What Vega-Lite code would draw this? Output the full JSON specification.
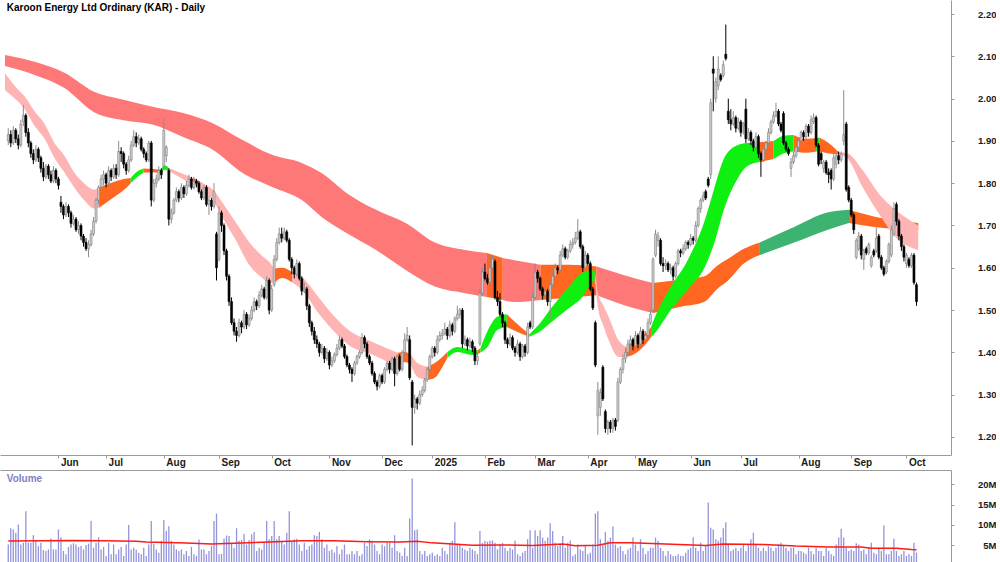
{
"$schema":"https://vega.github.io/schema/vega-lite/v6.json",
"padding":0,
"background":"white",
"spacing":3,
"config":{"view":{"stroke":null},"axis":{"labelFont":"Liberation Sans","labelFontWeight":"bold","labelColor":"#1a1a1a","domainColor":"#9a9a9a","tickColor":"#9a9a9a","grid":false,"labelOverlap":false,"labelBound":false}},
"datasets":{
"px":[
{"i":0,"o":1.9,"h":1.93,"l":1.89,"c":1.915,"v":5.2},
{"i":1,"o":1.915,"h":1.925,"l":1.885,"c":1.895,"v":9.2},
{"i":2,"o":1.895,"h":1.935,"l":1.89,"c":1.925,"v":8.9},
{"i":3,"o":1.925,"h":1.93,"l":1.895,"c":1.905,"v":8.1},
{"i":4,"o":1.905,"h":1.915,"l":1.88,"c":1.89,"v":10.1},
{"i":5,"o":1.89,"h":1.95,"l":1.885,"c":1.94,"v":5.2},
{"i":6,"o":1.945,"h":1.985,"l":1.935,"c":1.96,"v":5.6},
{"i":7,"o":1.96,"h":1.965,"l":1.91,"c":1.92,"v":13.4},
{"i":8,"o":1.92,"h":1.93,"l":1.885,"c":1.895,"v":5.6},
{"i":9,"o":1.895,"h":1.9,"l":1.86,"c":1.87,"v":5.6},
{"i":10,"o":1.87,"h":1.88,"l":1.845,"c":1.855,"v":7.5},
{"i":11,"o":1.855,"h":1.89,"l":1.85,"c":1.88,"v":6.1},
{"i":12,"o":1.88,"h":1.885,"l":1.85,"c":1.86,"v":4.8},
{"i":13,"o":1.86,"h":1.865,"l":1.825,"c":1.835,"v":5.6},
{"i":14,"o":1.835,"h":1.85,"l":1.805,"c":1.815,"v":3.8},
{"i":15,"o":1.815,"h":1.845,"l":1.81,"c":1.84,"v":3.6},
{"i":16,"o":1.84,"h":1.845,"l":1.81,"c":1.82,"v":4.0},
{"i":17,"o":1.82,"h":1.83,"l":1.8,"c":1.805,"v":6.7},
{"i":18,"o":1.805,"h":1.84,"l":1.8,"c":1.83,"v":4.0},
{"i":19,"o":1.83,"h":1.835,"l":1.8,"c":1.81,"v":4.0},
{"i":20,"o":1.81,"h":1.815,"l":1.785,"c":1.795,"v":8.9},
{"i":21,"o":1.755,"h":1.77,"l":1.73,"c":1.745,"v":7.0},
{"i":22,"o":1.745,"h":1.75,"l":1.715,"c":1.725,"v":3.6},
{"i":23,"o":1.725,"h":1.755,"l":1.72,"c":1.745,"v":2.8},
{"i":24,"o":1.745,"h":1.75,"l":1.72,"c":1.73,"v":4.6},
{"i":25,"o":1.73,"h":1.735,"l":1.695,"c":1.705,"v":5.2},
{"i":26,"o":1.705,"h":1.725,"l":1.7,"c":1.715,"v":5.5},
{"i":27,"o":1.715,"h":1.72,"l":1.685,"c":1.69,"v":5.2},
{"i":28,"o":1.69,"h":1.71,"l":1.68,"c":1.7,"v":4.6},
{"i":29,"o":1.7,"h":1.705,"l":1.665,"c":1.675,"v":4.8},
{"i":30,"o":1.675,"h":1.68,"l":1.65,"c":1.66,"v":4.0},
{"i":31,"o":1.66,"h":1.67,"l":1.64,"c":1.645,"v":5.1},
{"i":32,"o":1.645,"h":1.665,"l":1.625,"c":1.655,"v":5.4},
{"i":33,"o":1.655,"h":1.69,"l":1.65,"c":1.68,"v":11.0},
{"i":34,"o":1.68,"h":1.72,"l":1.675,"c":1.71,"v":4.4},
{"i":35,"o":1.71,"h":1.765,"l":1.705,"c":1.76,"v":5.6},
{"i":36,"o":1.76,"h":1.795,"l":1.75,"c":1.79,"v":7.0},
{"i":37,"o":1.79,"h":1.82,"l":1.785,"c":1.81,"v":4.0},
{"i":38,"o":1.81,"h":1.83,"l":1.795,"c":1.82,"v":4.6},
{"i":39,"o":1.82,"h":1.825,"l":1.79,"c":1.8,"v":2.4},
{"i":40,"o":1.8,"h":1.84,"l":1.795,"c":1.83,"v":5.6},
{"i":41,"o":1.83,"h":1.835,"l":1.805,"c":1.815,"v":2.8},
{"i":42,"o":1.815,"h":1.845,"l":1.81,"c":1.835,"v":5.2},
{"i":43,"o":1.835,"h":1.845,"l":1.81,"c":1.82,"v":2.8},
{"i":44,"o":1.82,"h":1.9,"l":1.815,"c":1.875,"v":4.0},
{"i":45,"o":1.875,"h":1.885,"l":1.85,"c":1.87,"v":4.6},
{"i":46,"o":1.87,"h":1.875,"l":1.835,"c":1.845,"v":2.4},
{"i":47,"o":1.845,"h":1.85,"l":1.82,"c":1.83,"v":5.2},
{"i":48,"o":1.83,"h":1.865,"l":1.825,"c":1.855,"v":10.0},
{"i":49,"o":1.855,"h":1.9,"l":1.85,"c":1.89,"v":4.0},
{"i":50,"o":1.89,"h":1.925,"l":1.885,"c":1.91,"v":4.4},
{"i":51,"o":1.91,"h":1.92,"l":1.885,"c":1.895,"v":4.0},
{"i":52,"o":1.895,"h":1.915,"l":1.89,"c":1.905,"v":3.2},
{"i":53,"o":1.905,"h":1.91,"l":1.875,"c":1.88,"v":2.8},
{"i":54,"o":1.88,"h":1.885,"l":1.86,"c":1.87,"v":4.4},
{"i":55,"o":1.87,"h":1.875,"l":1.85,"c":1.855,"v":2.4},
{"i":56,"o":1.855,"h":1.9,"l":1.85,"c":1.895,"v":5.2},
{"i":57,"o":1.895,"h":1.9,"l":1.745,"c":1.76,"v":11.0},
{"i":58,"o":1.76,"h":1.81,"l":1.755,"c":1.8,"v":5.4},
{"i":59,"o":1.8,"h":1.82,"l":1.79,"c":1.81,"v":4.0},
{"i":60,"o":1.81,"h":1.84,"l":1.805,"c":1.83,"v":3.2},
{"i":61,"o":1.83,"h":1.835,"l":1.81,"c":1.82,"v":6.1},
{"i":62,"o":1.84,"h":1.955,"l":1.835,"c":1.925,"v":11.2},
{"i":63,"o":1.865,"h":1.89,"l":1.85,"c":1.885,"v":8.5},
{"i":64,"o":1.83,"h":1.835,"l":1.7,"c":1.715,"v":9.7},
{"i":65,"o":1.715,"h":1.74,"l":1.705,"c":1.73,"v":6.1},
{"i":66,"o":1.73,"h":1.765,"l":1.725,"c":1.76,"v":5.2},
{"i":67,"o":1.76,"h":1.79,"l":1.755,"c":1.78,"v":4.0},
{"i":68,"o":1.78,"h":1.785,"l":1.755,"c":1.765,"v":3.6},
{"i":69,"o":1.765,"h":1.8,"l":1.76,"c":1.79,"v":4.0},
{"i":70,"o":1.79,"h":1.795,"l":1.765,"c":1.775,"v":2.8},
{"i":71,"o":1.775,"h":1.805,"l":1.77,"c":1.795,"v":3.6},
{"i":72,"o":1.795,"h":1.82,"l":1.79,"c":1.81,"v":2.4},
{"i":73,"o":1.81,"h":1.815,"l":1.785,"c":1.79,"v":4.6},
{"i":74,"o":1.79,"h":1.815,"l":1.785,"c":1.805,"v":2.8},
{"i":75,"o":1.805,"h":1.81,"l":1.79,"c":1.8,"v":2.4},
{"i":76,"o":1.8,"h":1.805,"l":1.775,"c":1.78,"v":6.4},
{"i":77,"o":1.78,"h":1.785,"l":1.76,"c":1.765,"v":4.0},
{"i":78,"o":1.765,"h":1.795,"l":1.76,"c":1.79,"v":4.0},
{"i":79,"o":1.79,"h":1.795,"l":1.745,"c":1.75,"v":2.8},
{"i":80,"o":1.75,"h":1.77,"l":1.725,"c":1.76,"v":3.6},
{"i":81,"o":1.76,"h":1.765,"l":1.735,"c":1.745,"v":4.8},
{"i":82,"o":1.745,"h":1.8,"l":1.74,"c":1.78,"v":11.0},
{"i":83,"o":1.68,"h":1.685,"l":1.57,"c":1.6,"v":12.8},
{"i":84,"o":1.62,"h":1.745,"l":1.615,"c":1.73,"v":2.8},
{"i":85,"o":1.73,"h":1.735,"l":1.685,"c":1.7,"v":2.9},
{"i":86,"o":1.7,"h":1.705,"l":1.63,"c":1.64,"v":6.7},
{"i":87,"o":1.64,"h":1.645,"l":1.57,"c":1.58,"v":7.4},
{"i":88,"o":1.58,"h":1.585,"l":1.51,"c":1.52,"v":7.3},
{"i":89,"o":1.52,"h":1.53,"l":1.465,"c":1.47,"v":5.6},
{"i":90,"o":1.47,"h":1.48,"l":1.44,"c":1.45,"v":4.4},
{"i":91,"o":1.45,"h":1.46,"l":1.425,"c":1.44,"v":9.2},
{"i":92,"o":1.44,"h":1.48,"l":1.435,"c":1.47,"v":6.1},
{"i":93,"o":1.47,"h":1.475,"l":1.445,"c":1.46,"v":6.3},
{"i":94,"o":1.46,"h":1.5,"l":1.455,"c":1.49,"v":7.8},
{"i":95,"o":1.49,"h":1.495,"l":1.455,"c":1.465,"v":5.2},
{"i":96,"o":1.465,"h":1.49,"l":1.46,"c":1.48,"v":6.3},
{"i":97,"o":1.48,"h":1.51,"l":1.475,"c":1.5,"v":7.7},
{"i":98,"o":1.5,"h":1.53,"l":1.495,"c":1.52,"v":8.3},
{"i":99,"o":1.52,"h":1.525,"l":1.5,"c":1.51,"v":3.6},
{"i":100,"o":1.51,"h":1.545,"l":1.505,"c":1.535,"v":4.4},
{"i":101,"o":1.535,"h":1.56,"l":1.53,"c":1.55,"v":4.0},
{"i":102,"o":1.55,"h":1.555,"l":1.525,"c":1.53,"v":5.6},
{"i":103,"o":1.53,"h":1.58,"l":1.525,"c":1.57,"v":11.0},
{"i":104,"o":1.57,"h":1.575,"l":1.49,"c":1.5,"v":6.5},
{"i":105,"o":1.5,"h":1.56,"l":1.495,"c":1.55,"v":7.3},
{"i":106,"o":1.56,"h":1.63,"l":1.555,"c":1.62,"v":11.0},
{"i":107,"o":1.62,"h":1.67,"l":1.615,"c":1.66,"v":6.5},
{"i":108,"o":1.66,"h":1.695,"l":1.655,"c":1.68,"v":7.3},
{"i":109,"o":1.68,"h":1.695,"l":1.66,"c":1.67,"v":6.1},
{"i":110,"o":1.67,"h":1.695,"l":1.665,"c":1.685,"v":5.2},
{"i":111,"o":1.685,"h":1.69,"l":1.66,"c":1.665,"v":8.1},
{"i":112,"o":1.665,"h":1.67,"l":1.615,"c":1.62,"v":13.4},
{"i":113,"o":1.62,"h":1.625,"l":1.585,"c":1.6,"v":6.1},
{"i":114,"o":1.6,"h":1.605,"l":1.575,"c":1.585,"v":6.5},
{"i":115,"o":1.585,"h":1.62,"l":1.58,"c":1.61,"v":6.6},
{"i":116,"o":1.61,"h":1.615,"l":1.57,"c":1.575,"v":5.2},
{"i":117,"o":1.575,"h":1.58,"l":1.535,"c":1.545,"v":3.6},
{"i":118,"o":1.545,"h":1.565,"l":1.54,"c":1.55,"v":5.6},
{"i":119,"o":1.55,"h":1.555,"l":1.5,"c":1.51,"v":4.0},
{"i":120,"o":1.51,"h":1.515,"l":1.46,"c":1.47,"v":4.8},
{"i":121,"o":1.47,"h":1.475,"l":1.44,"c":1.45,"v":5.2},
{"i":122,"o":1.45,"h":1.46,"l":1.42,"c":1.43,"v":7.5},
{"i":123,"o":1.43,"h":1.44,"l":1.41,"c":1.42,"v":7.3},
{"i":124,"o":1.42,"h":1.425,"l":1.39,"c":1.4,"v":8.3},
{"i":125,"o":1.4,"h":1.42,"l":1.395,"c":1.41,"v":6.5},
{"i":126,"o":1.41,"h":1.415,"l":1.375,"c":1.385,"v":4.4},
{"i":127,"o":1.385,"h":1.41,"l":1.38,"c":1.4,"v":5.2},
{"i":128,"o":1.4,"h":1.405,"l":1.36,"c":1.37,"v":3.6},
{"i":129,"o":1.37,"h":1.39,"l":1.365,"c":1.38,"v":4.0},
{"i":130,"o":1.38,"h":1.4,"l":1.375,"c":1.395,"v":3.2},
{"i":131,"o":1.395,"h":1.42,"l":1.39,"c":1.41,"v":4.8},
{"i":132,"o":1.41,"h":1.44,"l":1.405,"c":1.43,"v":2.8},
{"i":133,"o":1.43,"h":1.435,"l":1.41,"c":1.415,"v":4.0},
{"i":134,"o":1.415,"h":1.42,"l":1.385,"c":1.39,"v":5.2},
{"i":135,"o":1.39,"h":1.395,"l":1.365,"c":1.37,"v":2.8},
{"i":136,"o":1.37,"h":1.375,"l":1.35,"c":1.36,"v":2.8},
{"i":137,"o":1.36,"h":1.365,"l":1.33,"c":1.35,"v":3.6},
{"i":138,"o":1.35,"h":1.38,"l":1.345,"c":1.375,"v":2.8},
{"i":139,"o":1.375,"h":1.395,"l":1.37,"c":1.39,"v":3.6},
{"i":140,"o":1.39,"h":1.405,"l":1.385,"c":1.4,"v":2.4},
{"i":141,"o":1.4,"h":1.445,"l":1.395,"c":1.435,"v":2.8},
{"i":142,"o":1.435,"h":1.44,"l":1.41,"c":1.42,"v":5.6},
{"i":143,"o":1.42,"h":1.425,"l":1.385,"c":1.39,"v":4.8},
{"i":144,"o":1.39,"h":1.395,"l":1.37,"c":1.375,"v":6.5},
{"i":145,"o":1.375,"h":1.38,"l":1.345,"c":1.35,"v":6.1},
{"i":146,"o":1.35,"h":1.355,"l":1.325,"c":1.33,"v":5.2},
{"i":147,"o":1.33,"h":1.335,"l":1.31,"c":1.32,"v":3.6},
{"i":148,"o":1.32,"h":1.35,"l":1.315,"c":1.345,"v":2.8},
{"i":149,"o":1.345,"h":1.35,"l":1.325,"c":1.33,"v":5.2},
{"i":150,"o":1.33,"h":1.365,"l":1.325,"c":1.36,"v":4.8},
{"i":151,"o":1.36,"h":1.38,"l":1.355,"c":1.375,"v":5.6},
{"i":152,"o":1.375,"h":1.38,"l":1.35,"c":1.36,"v":5.6},
{"i":153,"o":1.36,"h":1.39,"l":1.355,"c":1.385,"v":4.4},
{"i":154,"o":1.385,"h":1.39,"l":1.32,"c":1.35,"v":7.5},
{"i":155,"o":1.35,"h":1.395,"l":1.345,"c":1.39,"v":3.6},
{"i":156,"o":1.39,"h":1.395,"l":1.355,"c":1.36,"v":3.2},
{"i":157,"o":1.36,"h":1.405,"l":1.355,"c":1.4,"v":2.4},
{"i":158,"o":1.4,"h":1.445,"l":1.395,"c":1.43,"v":4.4},
{"i":159,"o":1.43,"h":1.46,"l":1.425,"c":1.44,"v":2.4},
{"i":160,"o":1.43,"h":1.44,"l":1.335,"c":1.34,"v":11.6},
{"i":161,"o":1.33,"h":1.335,"l":1.18,"c":1.27,"v":21.4},
{"i":162,"o":1.27,"h":1.3,"l":1.255,"c":1.29,"v":8.7},
{"i":163,"o":1.29,"h":1.295,"l":1.265,"c":1.28,"v":8.9},
{"i":164,"o":1.28,"h":1.31,"l":1.275,"c":1.3,"v":3.6},
{"i":165,"o":1.3,"h":1.32,"l":1.295,"c":1.31,"v":2.8},
{"i":166,"o":1.31,"h":1.34,"l":1.305,"c":1.335,"v":3.6},
{"i":167,"o":1.335,"h":1.365,"l":1.33,"c":1.36,"v":2.4},
{"i":168,"o":1.36,"h":1.395,"l":1.355,"c":1.39,"v":2.8},
{"i":169,"o":1.39,"h":1.415,"l":1.385,"c":1.41,"v":3.2},
{"i":170,"o":1.41,"h":1.415,"l":1.39,"c":1.4,"v":2.4},
{"i":171,"o":1.4,"h":1.44,"l":1.395,"c":1.43,"v":2.8},
{"i":172,"o":1.43,"h":1.45,"l":1.425,"c":1.44,"v":2.4},
{"i":173,"o":1.44,"h":1.455,"l":1.43,"c":1.445,"v":4.4},
{"i":174,"o":1.445,"h":1.47,"l":1.44,"c":1.455,"v":3.6},
{"i":175,"o":1.455,"h":1.46,"l":1.43,"c":1.44,"v":2.8},
{"i":176,"o":1.44,"h":1.475,"l":1.435,"c":1.465,"v":5.6},
{"i":177,"o":1.465,"h":1.47,"l":1.44,"c":1.45,"v":6.1},
{"i":178,"o":1.45,"h":1.485,"l":1.445,"c":1.48,"v":10.7},
{"i":179,"o":1.48,"h":1.51,"l":1.475,"c":1.49,"v":5.4},
{"i":180,"o":1.49,"h":1.505,"l":1.48,"c":1.5,"v":5.2},
{"i":181,"o":1.5,"h":1.505,"l":1.41,"c":1.42,"v":4.4},
{"i":182,"o":1.42,"h":1.44,"l":1.415,"c":1.43,"v":4.0},
{"i":183,"o":1.43,"h":1.435,"l":1.405,"c":1.415,"v":3.6},
{"i":184,"o":1.415,"h":1.435,"l":1.41,"c":1.425,"v":4.4},
{"i":185,"o":1.425,"h":1.43,"l":1.4,"c":1.41,"v":4.0},
{"i":186,"o":1.41,"h":1.415,"l":1.37,"c":1.38,"v":3.6},
{"i":187,"o":1.38,"h":1.4,"l":1.37,"c":1.39,"v":2.8},
{"i":188,"o":1.42,"h":1.55,"l":1.415,"c":1.54,"v":8.5},
{"i":189,"o":1.54,"h":1.6,"l":1.535,"c":1.59,"v":5.6},
{"i":190,"o":1.59,"h":1.61,"l":1.57,"c":1.575,"v":6.1},
{"i":191,"o":1.575,"h":1.585,"l":1.56,"c":1.565,"v":5.9},
{"i":192,"o":1.565,"h":1.63,"l":1.56,"c":1.6,"v":6.1},
{"i":193,"o":1.6,"h":1.63,"l":1.595,"c":1.62,"v":6.2},
{"i":194,"o":1.615,"h":1.62,"l":1.525,"c":1.53,"v":5.6},
{"i":195,"o":1.53,"h":1.545,"l":1.51,"c":1.52,"v":4.0},
{"i":196,"o":1.52,"h":1.54,"l":1.485,"c":1.49,"v":5.2},
{"i":197,"o":1.49,"h":1.495,"l":1.46,"c":1.47,"v":5.6},
{"i":198,"o":1.47,"h":1.475,"l":1.42,"c":1.43,"v":4.4},
{"i":199,"o":1.43,"h":1.435,"l":1.41,"c":1.42,"v":3.6},
{"i":200,"o":1.42,"h":1.445,"l":1.415,"c":1.435,"v":4.4},
{"i":201,"o":1.435,"h":1.44,"l":1.405,"c":1.41,"v":4.0},
{"i":202,"o":1.41,"h":1.415,"l":1.39,"c":1.4,"v":6.1},
{"i":203,"o":1.4,"h":1.43,"l":1.395,"c":1.42,"v":2.8},
{"i":204,"o":1.42,"h":1.425,"l":1.38,"c":1.39,"v":2.4},
{"i":205,"o":1.39,"h":1.42,"l":1.385,"c":1.415,"v":3.2},
{"i":206,"o":1.415,"h":1.42,"l":1.39,"c":1.4,"v":3.6},
{"i":207,"o":1.4,"h":1.47,"l":1.395,"c":1.46,"v":6.5},
{"i":208,"o":1.47,"h":1.475,"l":1.455,"c":1.46,"v":8.7},
{"i":209,"o":1.46,"h":1.54,"l":1.455,"c":1.53,"v":4.4},
{"i":210,"o":1.53,"h":1.61,"l":1.525,"c":1.59,"v":8.7},
{"i":211,"o":1.59,"h":1.595,"l":1.565,"c":1.575,"v":7.3},
{"i":212,"o":1.575,"h":1.58,"l":1.545,"c":1.55,"v":8.7},
{"i":213,"o":1.55,"h":1.555,"l":1.525,"c":1.535,"v":6.9},
{"i":214,"o":1.535,"h":1.555,"l":1.53,"c":1.545,"v":6.1},
{"i":215,"o":1.545,"h":1.55,"l":1.51,"c":1.52,"v":6.9},
{"i":216,"o":1.52,"h":1.57,"l":1.48,"c":1.56,"v":10.4},
{"i":217,"o":1.56,"h":1.585,"l":1.555,"c":1.58,"v":8.5},
{"i":218,"o":1.58,"h":1.61,"l":1.575,"c":1.6,"v":5.6},
{"i":219,"o":1.6,"h":1.605,"l":1.585,"c":1.595,"v":4.8},
{"i":220,"o":1.595,"h":1.64,"l":1.59,"c":1.63,"v":5.2},
{"i":221,"o":1.63,"h":1.655,"l":1.625,"c":1.645,"v":7.3},
{"i":222,"o":1.645,"h":1.65,"l":1.62,"c":1.625,"v":4.4},
{"i":223,"o":1.625,"h":1.645,"l":1.62,"c":1.64,"v":5.6},
{"i":224,"o":1.64,"h":1.665,"l":1.635,"c":1.655,"v":6.2},
{"i":225,"o":1.655,"h":1.67,"l":1.645,"c":1.66,"v":2.4},
{"i":226,"o":1.66,"h":1.685,"l":1.655,"c":1.67,"v":2.8},
{"i":227,"o":1.67,"h":1.715,"l":1.665,"c":1.685,"v":5.2},
{"i":228,"o":1.685,"h":1.69,"l":1.645,"c":1.65,"v":4.0},
{"i":229,"o":1.65,"h":1.655,"l":1.59,"c":1.6,"v":3.6},
{"i":230,"o":1.6,"h":1.64,"l":1.595,"c":1.63,"v":4.8},
{"i":231,"o":1.63,"h":1.635,"l":1.605,"c":1.61,"v":2.8},
{"i":232,"o":1.61,"h":1.615,"l":1.545,"c":1.55,"v":3.2},
{"i":233,"o":1.55,"h":1.555,"l":1.5,"c":1.505,"v":5.2},
{"i":234,"o":1.47,"h":1.475,"l":1.365,"c":1.37,"v":12.8},
{"i":235,"o":1.25,"h":1.33,"l":1.205,"c":1.31,"v":13.4},
{"i":236,"o":1.27,"h":1.315,"l":1.25,"c":1.305,"v":6.5},
{"i":237,"o":1.365,"h":1.37,"l":1.285,"c":1.29,"v":5.2},
{"i":238,"o":1.26,"h":1.265,"l":1.21,"c":1.22,"v":8.3},
{"i":239,"o":1.22,"h":1.24,"l":1.205,"c":1.235,"v":6.1},
{"i":240,"o":1.235,"h":1.24,"l":1.21,"c":1.22,"v":6.9},
{"i":241,"o":1.22,"h":1.245,"l":1.21,"c":1.24,"v":9.6},
{"i":242,"o":1.24,"h":1.245,"l":1.215,"c":1.225,"v":5.2},
{"i":243,"o":1.24,"h":1.34,"l":1.235,"c":1.33,"v":4.4},
{"i":244,"o":1.33,"h":1.365,"l":1.325,"c":1.36,"v":4.8},
{"i":245,"o":1.36,"h":1.395,"l":1.35,"c":1.385,"v":3.6},
{"i":246,"o":1.385,"h":1.41,"l":1.375,"c":1.4,"v":2.8},
{"i":247,"o":1.4,"h":1.43,"l":1.395,"c":1.42,"v":4.0},
{"i":248,"o":1.42,"h":1.44,"l":1.41,"c":1.43,"v":4.4},
{"i":249,"o":1.43,"h":1.435,"l":1.405,"c":1.415,"v":6.9},
{"i":250,"o":1.415,"h":1.45,"l":1.41,"c":1.44,"v":5.2},
{"i":251,"o":1.44,"h":1.445,"l":1.41,"c":1.42,"v":3.6},
{"i":252,"o":1.42,"h":1.46,"l":1.415,"c":1.45,"v":6.5},
{"i":253,"o":1.45,"h":1.455,"l":1.42,"c":1.43,"v":4.4},
{"i":254,"o":1.43,"h":1.45,"l":1.425,"c":1.44,"v":2.8},
{"i":255,"o":1.44,"h":1.48,"l":1.435,"c":1.47,"v":3.6},
{"i":256,"o":1.47,"h":1.5,"l":1.465,"c":1.49,"v":4.4},
{"i":257,"o":1.5,"h":1.625,"l":1.495,"c":1.62,"v":4.4},
{"i":258,"o":1.63,"h":1.69,"l":1.625,"c":1.68,"v":6.9},
{"i":259,"o":1.665,"h":1.685,"l":1.65,"c":1.675,"v":6.1},
{"i":260,"o":1.665,"h":1.67,"l":1.605,"c":1.61,"v":4.4},
{"i":261,"o":1.61,"h":1.625,"l":1.59,"c":1.605,"v":3.6},
{"i":262,"o":1.605,"h":1.62,"l":1.595,"c":1.61,"v":2.4},
{"i":263,"o":1.61,"h":1.615,"l":1.59,"c":1.595,"v":3.6},
{"i":264,"o":1.595,"h":1.61,"l":1.585,"c":1.6,"v":2.8},
{"i":265,"o":1.6,"h":1.605,"l":1.57,"c":1.58,"v":2.4},
{"i":266,"o":1.58,"h":1.615,"l":1.575,"c":1.61,"v":2.4},
{"i":267,"o":1.61,"h":1.645,"l":1.605,"c":1.64,"v":2.8},
{"i":268,"o":1.64,"h":1.645,"l":1.625,"c":1.635,"v":2.4},
{"i":269,"o":1.635,"h":1.655,"l":1.63,"c":1.645,"v":2.4},
{"i":270,"o":1.645,"h":1.665,"l":1.64,"c":1.66,"v":3.2},
{"i":271,"o":1.66,"h":1.665,"l":1.645,"c":1.655,"v":4.0},
{"i":272,"o":1.655,"h":1.68,"l":1.65,"c":1.67,"v":4.4},
{"i":273,"o":1.67,"h":1.675,"l":1.655,"c":1.665,"v":7.0},
{"i":274,"o":1.665,"h":1.71,"l":1.66,"c":1.7,"v":4.4},
{"i":275,"o":1.7,"h":1.745,"l":1.695,"c":1.74,"v":3.6},
{"i":276,"o":1.74,"h":1.765,"l":1.73,"c":1.76,"v":5.6},
{"i":277,"o":1.76,"h":1.78,"l":1.755,"c":1.77,"v":3.6},
{"i":278,"o":1.78,"h":1.785,"l":1.76,"c":1.765,"v":4.8},
{"i":279,"o":1.81,"h":1.815,"l":1.79,"c":1.795,"v":15.5},
{"i":280,"o":1.82,"h":2.0,"l":1.81,"c":1.99,"v":9.3},
{"i":281,"o":2.07,"h":2.1,"l":1.97,"c":2.06,"v":8.9},
{"i":282,"o":2.0,"h":2.05,"l":1.99,"c":2.04,"v":6.5},
{"i":283,"o":2.03,"h":2.1,"l":2.02,"c":2.07,"v":6.1},
{"i":284,"o":2.055,"h":2.06,"l":2.04,"c":2.045,"v":6.9},
{"i":285,"o":2.055,"h":2.09,"l":2.05,"c":2.08,"v":9.2},
{"i":286,"o":2.105,"h":2.175,"l":2.09,"c":2.095,"v":10.7},
{"i":287,"o":1.97,"h":2.0,"l":1.94,"c":1.95,"v":5.2},
{"i":288,"o":1.95,"h":1.975,"l":1.925,"c":1.94,"v":3.6},
{"i":289,"o":1.94,"h":1.97,"l":1.935,"c":1.955,"v":4.0},
{"i":290,"o":1.955,"h":1.96,"l":1.92,"c":1.93,"v":4.4},
{"i":291,"o":1.93,"h":1.955,"l":1.925,"c":1.945,"v":3.6},
{"i":292,"o":1.945,"h":1.95,"l":1.91,"c":1.92,"v":4.4},
{"i":293,"o":1.935,"h":1.945,"l":1.915,"c":1.94,"v":5.2},
{"i":294,"o":1.975,"h":2.0,"l":1.895,"c":1.905,"v":3.6},
{"i":295,"o":1.905,"h":1.93,"l":1.9,"c":1.92,"v":5.2},
{"i":296,"o":1.92,"h":1.925,"l":1.89,"c":1.9,"v":6.5},
{"i":297,"o":1.9,"h":1.905,"l":1.875,"c":1.885,"v":8.1},
{"i":298,"o":1.885,"h":1.92,"l":1.88,"c":1.91,"v":5.2},
{"i":299,"o":1.91,"h":1.915,"l":1.86,"c":1.87,"v":4.4},
{"i":300,"o":1.87,"h":1.875,"l":1.815,"c":1.855,"v":3.6},
{"i":301,"o":1.855,"h":1.89,"l":1.85,"c":1.88,"v":4.4},
{"i":302,"o":1.88,"h":1.9,"l":1.875,"c":1.895,"v":3.6},
{"i":303,"o":1.895,"h":1.93,"l":1.89,"c":1.92,"v":4.8},
{"i":304,"o":1.92,"h":1.95,"l":1.915,"c":1.945,"v":4.4},
{"i":305,"o":1.945,"h":1.97,"l":1.94,"c":1.96,"v":3.6},
{"i":306,"o":1.96,"h":1.99,"l":1.955,"c":1.97,"v":4.4},
{"i":307,"o":1.97,"h":1.975,"l":1.935,"c":1.94,"v":5.2},
{"i":308,"o":1.94,"h":1.945,"l":1.92,"c":1.925,"v":5.6},
{"i":309,"o":1.965,"h":1.97,"l":1.89,"c":1.895,"v":4.8},
{"i":310,"o":1.895,"h":1.9,"l":1.875,"c":1.88,"v":4.4},
{"i":311,"o":1.88,"h":1.885,"l":1.865,"c":1.87,"v":3.6},
{"i":312,"o":1.835,"h":1.86,"l":1.815,"c":1.85,"v":4.4},
{"i":313,"o":1.85,"h":1.875,"l":1.845,"c":1.865,"v":4.4},
{"i":314,"o":1.865,"h":1.89,"l":1.86,"c":1.885,"v":2.8},
{"i":315,"o":1.885,"h":1.905,"l":1.875,"c":1.9,"v":3.6},
{"i":316,"o":1.9,"h":1.925,"l":1.895,"c":1.92,"v":3.6},
{"i":317,"o":1.92,"h":1.925,"l":1.9,"c":1.91,"v":3.2},
{"i":318,"o":1.91,"h":1.94,"l":1.905,"c":1.935,"v":2.8},
{"i":319,"o":1.935,"h":1.94,"l":1.91,"c":1.92,"v":4.4},
{"i":320,"o":1.92,"h":1.96,"l":1.915,"c":1.95,"v":3.6},
{"i":321,"o":1.945,"h":1.965,"l":1.94,"c":1.955,"v":2.8},
{"i":322,"o":1.955,"h":1.96,"l":1.885,"c":1.89,"v":4.4},
{"i":323,"o":1.89,"h":1.895,"l":1.84,"c":1.845,"v":3.6},
{"i":324,"o":1.87,"h":1.875,"l":1.845,"c":1.855,"v":3.6},
{"i":325,"o":1.835,"h":1.855,"l":1.825,"c":1.85,"v":2.4},
{"i":326,"o":1.85,"h":1.855,"l":1.82,"c":1.825,"v":4.4},
{"i":327,"o":1.825,"h":1.835,"l":1.8,"c":1.82,"v":3.6},
{"i":328,"o":1.83,"h":1.835,"l":1.785,"c":1.81,"v":2.8},
{"i":329,"o":1.81,"h":1.87,"l":1.805,"c":1.86,"v":2.4},
{"i":330,"o":1.845,"h":1.87,"l":1.835,"c":1.865,"v":5.2},
{"i":331,"o":1.865,"h":1.875,"l":1.845,"c":1.855,"v":6.9},
{"i":332,"o":1.855,"h":1.875,"l":1.85,"c":1.87,"v":9.1},
{"i":333,"o":1.9,"h":2.02,"l":1.89,"c":1.915,"v":6.9},
{"i":334,"o":1.94,"h":1.945,"l":1.78,"c":1.785,"v":4.4},
{"i":335,"o":1.79,"h":1.795,"l":1.755,"c":1.76,"v":3.6},
{"i":336,"o":1.76,"h":1.765,"l":1.72,"c":1.725,"v":4.0},
{"i":337,"o":1.725,"h":1.73,"l":1.68,"c":1.69,"v":3.6},
{"i":338,"o":1.625,"h":1.67,"l":1.62,"c":1.665,"v":5.5},
{"i":339,"o":1.645,"h":1.685,"l":1.64,"c":1.675,"v":5.2},
{"i":340,"o":1.675,"h":1.68,"l":1.62,"c":1.63,"v":3.6},
{"i":341,"o":1.62,"h":1.645,"l":1.595,"c":1.64,"v":4.0},
{"i":342,"o":1.645,"h":1.65,"l":1.63,"c":1.635,"v":2.8},
{"i":343,"o":1.635,"h":1.66,"l":1.63,"c":1.655,"v":4.4},
{"i":344,"o":1.605,"h":1.63,"l":1.6,"c":1.625,"v":5.6},
{"i":345,"o":1.64,"h":1.645,"l":1.625,"c":1.63,"v":3.2},
{"i":346,"o":1.64,"h":1.695,"l":1.635,"c":1.67,"v":2.8},
{"i":347,"o":1.675,"h":1.68,"l":1.62,"c":1.625,"v":4.4},
{"i":348,"o":1.625,"h":1.63,"l":1.595,"c":1.6,"v":3.6},
{"i":349,"o":1.6,"h":1.605,"l":1.58,"c":1.585,"v":9.9},
{"i":350,"o":1.59,"h":1.62,"l":1.585,"c":1.615,"v":2.8},
{"i":351,"o":1.615,"h":1.66,"l":1.61,"c":1.655,"v":2.8},
{"i":352,"o":1.63,"h":1.7,"l":1.625,"c":1.69,"v":3.6},
{"i":353,"o":1.68,"h":1.755,"l":1.675,"c":1.74,"v":6.6},
{"i":354,"o":1.75,"h":1.755,"l":1.7,"c":1.71,"v":3.6},
{"i":355,"o":1.71,"h":1.715,"l":1.665,"c":1.675,"v":2.4},
{"i":356,"o":1.675,"h":1.68,"l":1.64,"c":1.65,"v":2.8},
{"i":357,"o":1.65,"h":1.655,"l":1.615,"c":1.625,"v":3.6},
{"i":358,"o":1.61,"h":1.635,"l":1.6,"c":1.63,"v":2.4},
{"i":359,"o":1.62,"h":1.625,"l":1.6,"c":1.605,"v":2.8},
{"i":360,"o":1.605,"h":1.635,"l":1.6,"c":1.63,"v":2.4},
{"i":361,"o":1.63,"h":1.635,"l":1.56,"c":1.565,"v":5.6},
{"i":362,"o":1.56,"h":1.565,"l":1.51,"c":1.52,"v":3.2}
],
"sr":[
{"i":-1.3,"lo":2.02,"hi":2.06,"st":"sd","g":1},{"i":2.6,"lo":2.0,"hi":2.03,"st":"sd","g":1},{"i":6.6,"lo":1.975,"hi":2.005,"st":"sd","g":1},{"i":10.5,"lo":1.935,"hi":1.97,"st":"sd","g":1},{"i":14.5,"lo":1.905,"hi":1.94,"st":"sd","g":1},{"i":18.4,"lo":1.86,"hi":1.895,"st":"sd","g":1},{"i":22.4,"lo":1.825,"hi":1.865,"st":"sd","g":1},{"i":26.3,"lo":1.79,"hi":1.825,"st":"sd","g":1},{"i":30.2,"lo":1.76,"hi":1.8,"st":"sd","g":1},{"i":34.2,"lo":1.74,"hi":1.785,"st":"sd","g":1},{"i":36.2,"lo":1.742,"hi":1.79,"st":"sd","g":1},
{"i":36.2,"lo":1.742,"hi":1.79,"st":"sm","g":2},{"i":42.1,"lo":1.767,"hi":1.803,"st":"sm","g":2},{"i":47.2,"lo":1.79,"hi":1.811,"st":"sm","g":2},{"i":48.8,"lo":1.8,"hi":1.812,"st":"sm","g":2},
{"i":48.8,"lo":1.8,"hi":1.812,"st":"su","g":3},{"i":51,"lo":1.812,"hi":1.826,"st":"su","g":3},{"i":53.9,"lo":1.825,"hi":1.835,"st":"su","g":3},
{"i":53.9,"lo":1.825,"hi":1.835,"st":"sm","g":4},{"i":57,"lo":1.826,"hi":1.834,"st":"sm","g":4},{"i":60.6,"lo":1.824,"hi":1.832,"st":"sm","g":4},
{"i":60.6,"lo":1.824,"hi":1.832,"st":"su","g":5},{"i":62.5,"lo":1.832,"hi":1.842,"st":"su","g":5},{"i":64,"lo":1.828,"hi":1.836,"st":"su","g":5},
{"i":64,"lo":1.828,"hi":1.836,"st":"sd","g":6},{"i":68,"lo":1.815,"hi":1.826,"st":"sd","g":6},{"i":72.5,"lo":1.8,"hi":1.815,"st":"sd","g":6},{"i":73.6,"lo":1.797,"hi":1.812,"st":"sd","g":6},
{"i":73.6,"lo":1.797,"hi":1.812,"st":"sm","g":7},{"i":74.8,"lo":1.795,"hi":1.81,"st":"sm","g":7},
{"i":74.8,"lo":1.795,"hi":1.81,"st":"sd","g":8},{"i":77.6,"lo":1.78,"hi":1.8,"st":"sd","g":8},{"i":81.5,"lo":1.76,"hi":1.785,"st":"sd","g":8},{"i":85.5,"lo":1.718,"hi":1.753,"st":"sd","g":8},{"i":90.6,"lo":1.666,"hi":1.708,"st":"sd","g":8},{"i":96,"lo":1.607,"hi":1.661,"st":"sd","g":8},{"i":101.2,"lo":1.576,"hi":1.628,"st":"sd","g":8},{"i":104,"lo":1.564,"hi":1.614,"st":"sd","g":8},{"i":106,"lo":1.564,"hi":1.598,"st":"sd","g":8},
{"i":106,"lo":1.564,"hi":1.598,"st":"sm","g":9},{"i":109.1,"lo":1.576,"hi":1.6,"st":"sm","g":9},{"i":113.1,"lo":1.566,"hi":1.59,"st":"sm","g":9},
{"i":113.1,"lo":1.566,"hi":1.59,"st":"sd","g":10},{"i":117,"lo":1.548,"hi":1.578,"st":"sd","g":10},{"i":123.6,"lo":1.493,"hi":1.531,"st":"sd","g":10},{"i":130.1,"lo":1.448,"hi":1.484,"st":"sd","g":10},{"i":136.7,"lo":1.413,"hi":1.448,"st":"sd","g":10},{"i":143.4,"lo":1.399,"hi":1.429,"st":"sd","g":10},{"i":149.7,"lo":1.382,"hi":1.413,"st":"sd","g":10},{"i":155.3,"lo":1.365,"hi":1.399,"st":"sd","g":10},
{"i":155.3,"lo":1.365,"hi":1.399,"st":"sm","g":11},{"i":158,"lo":1.377,"hi":1.401,"st":"sm","g":11},{"i":160.4,"lo":1.372,"hi":1.395,"st":"sm","g":11},
{"i":160.4,"lo":1.372,"hi":1.395,"st":"sd","g":12},{"i":163.1,"lo":1.342,"hi":1.375,"st":"sd","g":12},{"i":167.1,"lo":1.335,"hi":1.366,"st":"sd","g":12},
{"i":167.1,"lo":1.335,"hi":1.366,"st":"sm","g":13},{"i":170,"lo":1.34,"hi":1.375,"st":"sm","g":13},{"i":173,"lo":1.365,"hi":1.389,"st":"sm","g":13},{"i":175,"lo":1.387,"hi":1.401,"st":"sm","g":13},
{"i":175,"lo":1.387,"hi":1.401,"st":"su","g":14},{"i":179,"lo":1.401,"hi":1.413,"st":"su","g":14},{"i":185,"lo":1.394,"hi":1.406,"st":"su","g":14},{"i":187,"lo":1.395,"hi":1.405,"st":"su","g":14},
{"i":187,"lo":1.395,"hi":1.405,"st":"sm","g":15},{"i":188.2,"lo":1.4,"hi":1.41,"st":"sm","g":15},
{"i":188.2,"lo":1.4,"hi":1.41,"st":"su","g":16},{"i":191,"lo":1.413,"hi":1.45,"st":"su","g":16},{"i":194.9,"lo":1.453,"hi":1.484,"st":"su","g":16},{"i":198.7,"lo":1.46,"hi":1.49,"st":"su","g":16},
{"i":198.7,"lo":1.46,"hi":1.49,"st":"sm","g":17},{"i":204.6,"lo":1.444,"hi":1.458,"st":"sm","g":17},{"i":207.7,"lo":1.437,"hi":1.443,"st":"sm","g":17},
{"i":207.7,"lo":1.437,"hi":1.443,"st":"su","g":18},{"i":212.1,"lo":1.45,"hi":1.47,"st":"su","g":18},{"i":215.8,"lo":1.468,"hi":1.5,"st":"su","g":18},{"i":222.5,"lo":1.5,"hi":1.548,"st":"su","g":18},{"i":228.8,"lo":1.531,"hi":1.588,"st":"su","g":18},{"i":232.6,"lo":1.564,"hi":1.595,"st":"su","g":18},{"i":233.8,"lo":1.57,"hi":1.59,"st":"su","g":18},
{"i":233.8,"lo":1.57,"hi":1.59,"st":"sd","g":19},{"i":235.2,"lo":1.5,"hi":1.536,"st":"sd","g":19},{"i":237.1,"lo":1.465,"hi":1.512,"st":"sd","g":19},{"i":239.3,"lo":1.429,"hi":1.484,"st":"sd","g":19},{"i":243.2,"lo":1.389,"hi":1.429,"st":"sd","g":19},{"i":246.4,"lo":1.389,"hi":1.413,"st":"sd","g":19},
{"i":246.4,"lo":1.389,"hi":1.413,"st":"sm","g":20},{"i":250.4,"lo":1.399,"hi":1.436,"st":"sm","g":20},{"i":254.4,"lo":1.422,"hi":1.446,"st":"sm","g":20},{"i":256.2,"lo":1.436,"hi":1.46,"st":"sm","g":20},
{"i":256.2,"lo":1.436,"hi":1.46,"st":"su","g":21},{"i":257.8,"lo":1.446,"hi":1.484,"st":"su","g":21},{"i":264.1,"lo":1.5,"hi":1.555,"st":"su","g":21},{"i":270.8,"lo":1.548,"hi":1.618,"st":"su","g":21},{"i":277.5,"lo":1.6,"hi":1.71,"st":"su","g":21},{"i":281.5,"lo":1.66,"hi":1.79,"st":"su","g":21},{"i":285.4,"lo":1.74,"hi":1.86,"st":"su","g":21},{"i":290.6,"lo":1.81,"hi":1.89,"st":"su","g":21},{"i":294.5,"lo":1.84,"hi":1.895,"st":"su","g":21},{"i":299.6,"lo":1.85,"hi":1.897,"st":"su","g":21},
{"i":299.6,"lo":1.85,"hi":1.897,"st":"sm","g":22},{"i":305.1,"lo":1.857,"hi":1.9,"st":"sm","g":22},
{"i":305.1,"lo":1.857,"hi":1.9,"st":"su","g":23},{"i":309,"lo":1.87,"hi":1.912,"st":"su","g":23},{"i":313,"lo":1.875,"hi":1.914,"st":"su","g":23},
{"i":313,"lo":1.875,"hi":1.914,"st":"sm","g":24},{"i":318,"lo":1.872,"hi":1.905,"st":"sm","g":24},{"i":322,"lo":1.875,"hi":1.906,"st":"sm","g":24},
{"i":322,"lo":1.875,"hi":1.906,"st":"su","g":25},{"i":323.3,"lo":1.876,"hi":1.908,"st":"su","g":25},
{"i":323.3,"lo":1.876,"hi":1.908,"st":"sm","g":26},{"i":327,"lo":1.87,"hi":1.895,"st":"sm","g":26},{"i":331,"lo":1.868,"hi":1.873,"st":"sm","g":26},
{"i":331,"lo":1.868,"hi":1.873,"st":"sd","g":27},{"i":334,"lo":1.862,"hi":1.872,"st":"sd","g":27},{"i":340.5,"lo":1.791,"hi":1.831,"st":"sd","g":27},{"i":346.8,"lo":1.73,"hi":1.777,"st":"sd","g":27},{"i":353.6,"lo":1.673,"hi":1.737,"st":"sd","g":27},{"i":362.7,"lo":1.642,"hi":1.7,"st":"sd","g":27}
],
"lr":[
{"i":-1.3,"lo":2.077,"hi":2.103,"st":"ld","g":1},{"i":10.5,"lo":2.056,"hi":2.087,"st":"ld","g":1},{"i":22.4,"lo":2.025,"hi":2.061,"st":"ld","g":1},{"i":34.2,"lo":1.968,"hi":2.016,"st":"ld","g":1},{"i":46,"lo":1.949,"hi":1.997,"st":"ld","g":1},{"i":57.9,"lo":1.938,"hi":1.98,"st":"ld","g":1},{"i":69.7,"lo":1.909,"hi":1.966,"st":"ld","g":1},{"i":81.5,"lo":1.879,"hi":1.942,"st":"ld","g":1},{"i":93.4,"lo":1.824,"hi":1.902,"st":"ld","g":1},{"i":105.2,"lo":1.791,"hi":1.867,"st":"ld","g":1},{"i":117,"lo":1.76,"hi":1.848,"st":"ld","g":1},{"i":124.9,"lo":1.72,"hi":1.824,"st":"ld","g":1},{"i":134.8,"lo":1.682,"hi":1.777,"st":"ld","g":1},{"i":146.6,"lo":1.642,"hi":1.737,"st":"ld","g":1},{"i":158.4,"lo":1.595,"hi":1.706,"st":"ld","g":1},{"i":170.3,"lo":1.555,"hi":1.659,"st":"ld","g":1},{"i":182.1,"lo":1.54,"hi":1.642,"st":"ld","g":1},{"i":190.8,"lo":1.531,"hi":1.635,"st":"ld","g":1},
{"i":190.8,"lo":1.531,"hi":1.635,"st":"lm","g":2},{"i":197.1,"lo":1.524,"hi":1.623,"st":"lm","g":2},
{"i":197.1,"lo":1.524,"hi":1.623,"st":"ld","g":3},{"i":201.8,"lo":1.519,"hi":1.618,"st":"ld","g":3},{"i":212.1,"lo":1.524,"hi":1.607,"st":"ld","g":3},
{"i":212.1,"lo":1.524,"hi":1.607,"st":"lm","g":4},{"i":223.5,"lo":1.529,"hi":1.607,"st":"lm","g":4},{"i":234.5,"lo":1.535,"hi":1.603,"st":"lm","g":4},
{"i":234.5,"lo":1.535,"hi":1.603,"st":"ld","g":5},{"i":245.2,"lo":1.512,"hi":1.583,"st":"ld","g":5},{"i":257,"lo":1.493,"hi":1.564,"st":"ld","g":5},
{"i":257,"lo":1.493,"hi":1.564,"st":"lm","g":6},{"i":267,"lo":1.507,"hi":1.571,"st":"lm","g":6},{"i":277.5,"lo":1.52,"hi":1.58,"st":"lm","g":6},{"i":282.6,"lo":1.55,"hi":1.605,"st":"lm","g":6},{"i":286.6,"lo":1.568,"hi":1.62,"st":"lm","g":6},{"i":293.2,"lo":1.61,"hi":1.645,"st":"lm","g":6},{"i":299.6,"lo":1.63,"hi":1.66,"st":"lm","g":6},
{"i":299.6,"lo":1.63,"hi":1.66,"st":"lu","g":7},{"i":313,"lo":1.659,"hi":1.696,"st":"lu","g":7},{"i":326.1,"lo":1.689,"hi":1.73,"st":"lu","g":7},{"i":335.1,"lo":1.706,"hi":1.737,"st":"lu","g":7},
{"i":335.1,"lo":1.706,"hi":1.737,"st":"lm","g":8},{"i":345.8,"lo":1.696,"hi":1.72,"st":"lm","g":8},{"i":362.7,"lo":1.689,"hi":1.706,"st":"lm","g":8}
],
"vm":[
{"i":0,"m":6.05},{"i":13,"m":6.1},{"i":25,"m":6.2},{"i":38,"m":6.1},{"i":51,"m":6.0},{"i":55,"m":5.8},{"i":71,"m":5.55},{"i":81,"m":5.3},{"i":90,"m":5.5},{"i":104,"m":5.8},{"i":117,"m":6.1},{"i":130,"m":6.1},{"i":143,"m":5.9},{"i":156,"m":5.8},{"i":163,"m":6.0},{"i":169,"m":5.6},{"i":185,"m":5.0},{"i":196,"m":5.1},{"i":209,"m":4.95},{"i":221,"m":5.3},{"i":226,"m":4.9},{"i":235,"m":5.0},{"i":240,"m":5.6},{"i":248,"m":5.6},{"i":262,"m":5.35},{"i":278,"m":4.95},{"i":285,"m":5.35},{"i":301,"m":5.2},{"i":314,"m":4.8},{"i":327,"m":4.6},{"i":340,"m":4.6},{"i":344,"m":4.25},{"i":354,"m":4.25},{"i":360,"m":3.95},{"i":362,"m":3.9}
]
},
"vconcat":[
{
"width":951,"height":455,
"layer":[
{"data":{"name":"lr"},"mark":{"type":"area","interpolate":"monotone","clip":true},
"encoding":{
"x":{"field":"i","type":"quantitative","title":null,"scale":{"domain":[-1.3,373.77],"nice":false,"zero":false},
"axis":{"orient":"bottom","values":[20,39,62,84,105,128,149,169,190,210,231,250,272,292,315,336,358],"tickCount":40,"labelExpr":"['Jun','Jul','Aug','Sep','Oct','Nov','Dec','2025','Feb','Mar','Apr','May','Jun','Jul','Aug','Sep','Oct'][indexof([20,39,62,84,105,128,149,169,190,210,231,250,272,292,315,336,358], datum.value)]","tickSize":3,"labelAlign":"left","labelOffset":2,"labelPadding":-1,"labelBaseline":"top","labelFontSize":10,"labelOverlap":false,"labelFlush":false,"labelBound":false}},
"y":{"field":"lo","type":"quantitative","title":null,"scale":{"domain":[1.1574,2.2331],"nice":false,"zero":false},
"axis":{"orient":"right","values":[1.2,1.3,1.4,1.5,1.6,1.7,1.8,1.9,2.0,2.1,2.2],"tickCount":30,"format":".2f","tickSize":3,"labelAlign":"right","labelPadding":42,"labelFontSize":9.5,"labelBaseline":"middle","labelOverlap":false}},
"y2":{"field":"hi"},
"color":{"field":"st","type":"nominal","legend":null,"scale":{"domain":["sd","sm","su","ld","lm","lu"],"range":["#FFB4B4","#FF6620","#10F010","#FF7878","#FF6620","#3CB371"]}},
"detail":{"field":"g","type":"nominal"}}},
{"data":{"name":"sr"},"mark":{"type":"area","interpolate":"monotone","clip":true},
"encoding":{
"x":{"field":"i","type":"quantitative","title":null},
"y":{"field":"lo","type":"quantitative","title":null},
"y2":{"field":"hi"},
"color":{"field":"st","type":"nominal","legend":null},
"detail":{"field":"g","type":"nominal"}}},
{"data":{"name":"px"},"mark":{"type":"rule","strokeWidth":1},
"encoding":{
"x":{"field":"i","type":"quantitative","title":null},
"y":{"field":"l","type":"quantitative","title":null},
"y2":{"field":"h"},
"color":{"condition":{"test":"datum.c < datum.o","value":"#000000"},"value":"#8c8c8c"}}},
{"data":{"name":"px"},"mark":{"type":"bar","size":2,"strokeWidth":0.6},
"encoding":{
"x":{"field":"i","type":"quantitative","title":null},
"y":{"field":"o","type":"quantitative","title":null},
"y2":{"field":"c"},
"fill":{"condition":{"test":"datum.c < datum.o","value":"#000000"},"value":"#cfcfcf"},
"stroke":{"condition":{"test":"datum.c < datum.o","value":"#000000"},"value":"#808080"}}},
{"data":{"values":[{}]},"mark":{"type":"text","align":"left","baseline":"middle","font":"Liberation Sans","fontWeight":"bold","fontSize":10,"color":"#000000"},
"encoding":{"x":{"datum":-0.6},"y":{"datum":2.215},"text":{"value":"Karoon Energy Ltd Ordinary (KAR) - Daily"}}}
]
},
{
"width":951,"height":93,
"layer":[
{"data":{"name":"px"},"mark":{"type":"bar","orient":"vertical","size":1.3,"color":"#9494DA","clip":true},
"encoding":{
"x":{"field":"i","type":"quantitative","title":null,"scale":{"domain":[-1.3,373.77],"nice":false,"zero":false},"axis":{"orient":"top","labels":false,"ticks":false,"domain":true}},
"y":{"field":"v","type":"quantitative","title":null,"scale":{"domain":[0.65,23.52],"nice":false,"zero":false},
"axis":{"orient":"right","values":[5,10,15,20],"tickCount":20,"labelExpr":"datum.value + 'M'","tickSize":3,"labelAlign":"right","labelPadding":42,"labelFontSize":9.5,"labelBaseline":"middle","labelOverlap":false,"labelBound":false,"labelFlush":false}}}},
{"data":{"name":"vm"},"mark":{"type":"line","color":"#FF1A1A","strokeWidth":1.5},
"encoding":{
"x":{"field":"i","type":"quantitative","title":null},
"y":{"field":"m","type":"quantitative","title":null}}},
{"data":{"values":[{}]},"mark":{"type":"text","align":"left","baseline":"middle","font":"Liberation Sans","fontWeight":"bold","fontSize":10,"color":"#8080C0"},
"encoding":{"x":{"datum":-0.6},"y":{"datum":21.3},"text":{"value":"Volume"}}}
]
}
]
}
